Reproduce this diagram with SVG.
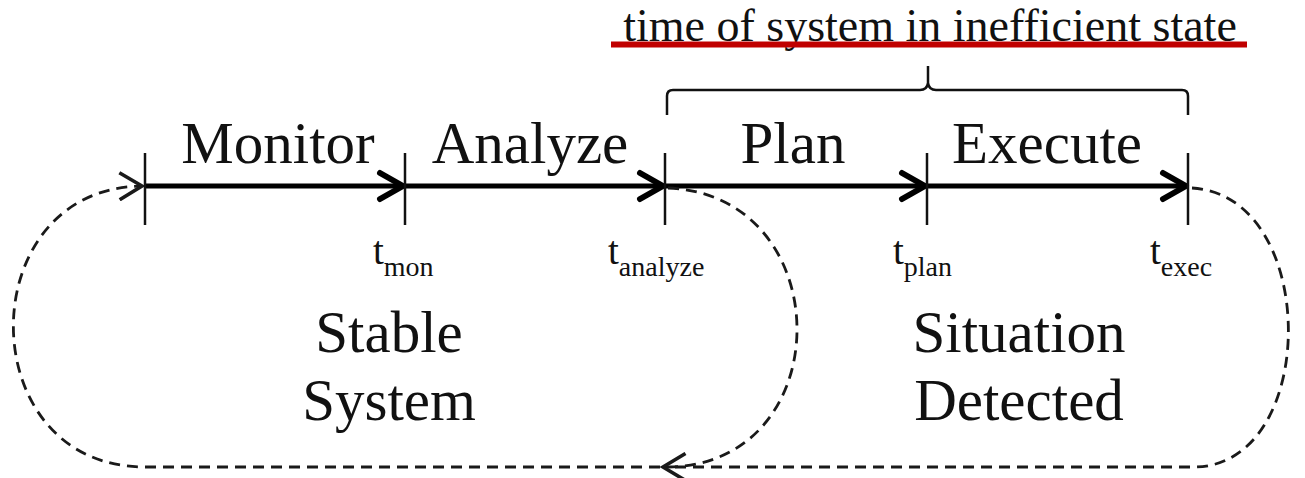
<svg xmlns="http://www.w3.org/2000/svg" width="1305" height="478" viewBox="0 0 1305 478">
  <defs>
    <style>
      .lbl { font-family: "Liberation Serif", "Times New Roman", serif; fill: #111; text-anchor: middle; }
      .phase { font-size: 59px; }
      .state { font-size: 59px; }
      .time { font-family: "Liberation Serif", "Times New Roman", serif; fill: #111; font-size: 39px; }
      .sub { font-size: 28px; }
      .tick { stroke: #111; stroke-width: 2.5; fill: none; }
      .axis { stroke: #000; stroke-width: 5; fill: none; }
      .head { stroke: #000; stroke-width: 6; fill: none; stroke-linecap: round; stroke-linejoin: round; }
      .loop { stroke: #1a1a1a; stroke-width: 2.8; fill: none; stroke-dasharray: 11 7; }
      .brace { stroke: #111; stroke-width: 2.5; fill: none; }
    </style>
    <marker id="openArrow" markerUnits="userSpaceOnUse" markerWidth="30" markerHeight="30" refX="16" refY="10" orient="auto" viewBox="0 0 20 20">
      <path d="M1,1 L16,10 L1,19" fill="none" stroke="#1a1a1a" stroke-width="2.4"/>
    </marker>
  </defs>

  <!-- heading with red underline -->
  <g id="heading">
    <text class="lbl" x="930" y="41" font-size="46">time of system in inefficient state</text>
    <rect x="611" y="41.5" width="636" height="6" fill="#c00000"/>
  </g>

  <!-- brace spanning plan and execute -->
  <g id="brace">
    <path class="brace" d="M667,115 L667,96 Q667,90 673,90 L920,90 Q927,90 928,83 L928,66 M928,66 L928,83 Q929,90 936,90 L1182,90 Q1188,90 1188,96 L1188,115"/>
  </g>

  <!-- connectors: timeline arrows and feedback loops -->
  <g id="connectors">
    <line class="axis" x1="145" y1="186" x2="401" y2="186"/>
    <line class="axis" x1="405" y1="186" x2="661" y2="186"/>
    <line class="axis" x1="665" y1="186" x2="923" y2="186"/>
    <line class="axis" x1="927" y1="186" x2="1184" y2="186"/>
    <path class="head" d="M380,173 L403,186 L380,199"/>
    <path class="head" d="M640,173 L663,186 L640,199"/>
    <path class="head" d="M902,173 L925,186 L902,199"/>
    <path class="head" d="M1163,173 L1186,186 L1163,199"/>

    <path class="loop" d="M1192,188 C1320,195 1320,465 1195,467 L663,467" marker-end="url(#openArrow)"/>
    <path class="loop" d="M668,188 C840,195 840,465 668,467"/>
    <path class="loop" d="M660,467 L145,467 C-30,467 -30,188 142,186" marker-end="url(#openArrow)"/>
  </g>

  <!-- time markers on the axis -->
  <g id="ticks">
    <line class="tick" x1="145" y1="153" x2="145" y2="225"/>
    <line class="tick" x1="405" y1="153" x2="405" y2="225"/>
    <line class="tick" x1="665" y1="153" x2="665" y2="225"/>
    <line class="tick" x1="927" y1="153" x2="927" y2="225"/>
    <line class="tick" x1="1188" y1="153" x2="1188" y2="225"/>
  </g>

  <g id="monitor"><text class="lbl phase" x="278" y="163">Monitor</text></g>
  <g id="analyze"><text class="lbl phase" x="530" y="163">Analyze</text></g>
  <g id="plan"><text class="lbl phase" x="793" y="163">Plan</text></g>
  <g id="execute"><text class="lbl phase" x="1047" y="163">Execute</text></g>

  <g id="t-mon"><text class="time" x="373" y="264">t<tspan class="sub" dy="12">mon</tspan></text></g>
  <g id="t-analyze"><text class="time" x="608" y="264">t<tspan class="sub" dy="12">analyze</tspan></text></g>
  <g id="t-plan"><text class="time" x="893" y="264">t<tspan class="sub" dy="12">plan</tspan></text></g>
  <g id="t-exec"><text class="time" x="1150" y="264">t<tspan class="sub" dy="12">exec</tspan></text></g>

  <g id="stable-system">
    <text class="lbl state" x="389" y="352">Stable</text>
    <text class="lbl state" x="389" y="420">System</text>
  </g>
  <g id="situation-detected">
    <text class="lbl state" x="1019" y="352">Situation</text>
    <text class="lbl state" x="1019" y="420">Detected</text>
  </g>
</svg>
